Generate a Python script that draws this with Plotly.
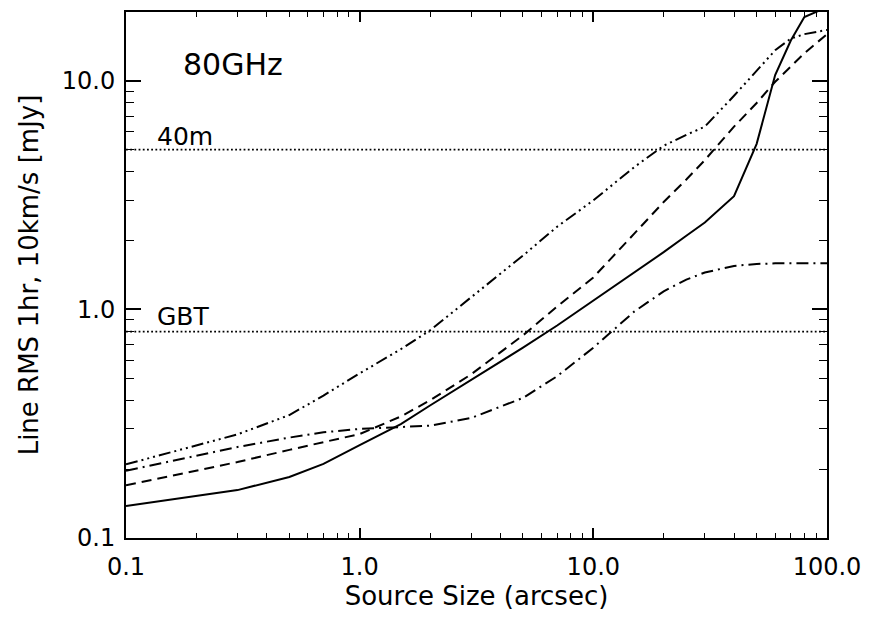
import numpy as np
import plotly.graph_objects as go

# Source sizes (arcsec)
source_size = [0.1, 0.3, 0.5, 0.7, 1.0, 1.5, 2, 3, 5, 7, 10, 15, 20, 25, 30, 40, 50, 60, 70, 80, 100]

# Line RMS (mJy) for each curve
rms_solid = [0.138, 0.162, 0.185, 0.211, 0.255, 0.315, 0.38, 0.49, 0.68, 0.85, 1.09, 1.45, 1.78, 2.1, 2.40, 3.13, 5.3, 10.6, 15.0, 19.0, 21.0]
rms_dash = [0.170, 0.215, 0.243, 0.262, 0.285, 0.34, 0.40, 0.52, 0.77, 1.03, 1.38, 2.15, 2.95, 3.7, 4.5, 6.3, 8.0, 9.9, 11.5, 13.2, 16.0]
rms_dashdot = [0.197, 0.25, 0.275, 0.29, 0.30, 0.305, 0.31, 0.335, 0.41, 0.51, 0.68, 0.98, 1.20, 1.35, 1.45, 1.55, 1.58, 1.59, 1.59, 1.59, 1.59]
rms_dash3dot = [0.21, 0.284, 0.345, 0.42, 0.525, 0.67, 0.81, 1.13, 1.72, 2.3, 3.0, 4.2, 5.2, 5.8, 6.3, 8.6, 11.0, 13.6, 15.3, 16.0, 16.7]

# Telescope sensitivity reference levels
ref_names = ["40m", "GBT"]
ref_levels = [5.0, 0.8]

x_tick_vals = [0.1, 1, 10, 100]
x_tick_text = ["0.1", "1.0", "10.0", "100.0"]
y_tick_vals = [0.1, 1, 10]
y_tick_text = ["0.1", "1.0", "10.0"]

FONT = "DejaVu Sans"

fig = go.Figure()

styles = [
    (rms_solid, "solid"),
    (rms_dash, "10px,6px"),
    (rms_dashdot, "12px,5px,2px,5px"),
    (rms_dash3dot, "12px,4px,2px,4px,2px,4px,2px,4px"),
]
for ys, dash in styles:
    fig.add_trace(go.Scatter(x=source_size, y=ys, mode="lines",
                             line=dict(color="black", width=2, dash=dash),
                             showlegend=False, hoverinfo="skip"))

for name, lvl in zip(ref_names, ref_levels):
    fig.add_trace(go.Scatter(x=[x_tick_vals[0], x_tick_vals[-1]], y=[lvl, lvl], mode="lines",
                             line=dict(color="black", width=1.8, dash="1.8px,2.4px"),
                             showlegend=False, hoverinfo="skip"))

minor_x = [m * d for d in [0.1, 1, 10] for m in range(2, 10)]
minor_y = [m * d for d in [0.1, 1, 10] for m in range(2, 10) if m * d <= 20]

fig.update_xaxes(type="log", range=[-1, 2], tickvals=x_tick_vals, ticktext=x_tick_text,
                 ticks="inside", ticklen=10, tickwidth=1.5, tickcolor="black",
                 showline=True, linewidth=2, linecolor="black", mirror="ticks",
                 showgrid=False, zeroline=False, ticklabelstandoff=6,
                 minor=dict(tickvals=minor_x, ticks="inside", ticklen=5, tickwidth=1.3, tickcolor="black", showgrid=False),
                 tickfont=dict(family=FONT, size=24, color="black"),
                 title=dict(text="Source Size (arcsec)", font=dict(family=FONT, size=26, color="black"), standoff=6))

fig.update_yaxes(type="log", range=[-1, np.log10(20)], tickvals=y_tick_vals, ticktext=y_tick_text,
                 ticks="inside", ticklen=15, tickwidth=1.5, tickcolor="black",
                 showline=True, linewidth=2, linecolor="black", mirror="ticks",
                 showgrid=False, zeroline=False, ticklabelstandoff=4,
                 minor=dict(tickvals=minor_y, ticks="inside", ticklen=8, tickwidth=1.3, tickcolor="black", showgrid=False),
                 tickfont=dict(family=FONT, size=24, color="black"),
                 title=dict(text="Line RMS 1hr, 10km/s [mJy]", font=dict(family=FONT, size=26, color="black"), standoff=16))

annots = [
    dict(text="80GHz", x=np.log10(0.172), y=1.07, size=30),
    dict(text=ref_names[0], x=np.log10(0.133), y=np.log10(ref_levels[0]) + 0.058, size=25),
    dict(text=ref_names[1], x=np.log10(0.133), y=np.log10(ref_levels[1]) + 0.066, size=25),
]
for a in annots:
    fig.add_annotation(text=a["text"], x=a["x"], y=a["y"], xref="x", yref="y",
                       xanchor="left", yanchor="middle", showarrow=False,
                       font=dict(family=FONT, size=a["size"], color="black"))

fig.update_layout(width=871, height=620, margin=dict(l=126, r=42, t=10, b=82),
                  paper_bgcolor="white", plot_bgcolor="white")

fig.write_html("out.html")
